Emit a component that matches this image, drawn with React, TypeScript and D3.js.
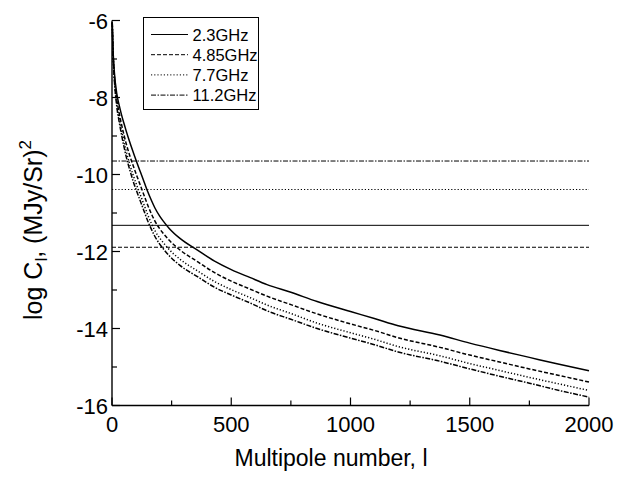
import React from "react";
import * as d3 from "d3";

const multipoles = [1, 5, 10, 20, 30, 40, 50, 60, 75, 90, 105, 120, 135, 150, 165, 180, 200, 215, 240, 285, 360, 430, 500, 580, 650, 750, 860, 1000, 1100, 1200, 1375, 1500, 1625, 1750, 1875, 2000];
const c23 = [-6.05, -6.85, -7.35, -7.9, -8.2, -8.45, -8.67, -8.88, -9.17, -9.44, -9.7, -9.95, -10.2, -10.45, -10.67, -10.87, -11.08, -11.21, -11.4, -11.66, -11.97, -12.25, -12.47, -12.68, -12.86, -13.06, -13.3, -13.56, -13.74, -13.93, -14.17, -14.38, -14.57, -14.75, -14.93, -15.1];
const c485 = [-6.05, -6.9, -7.45, -8.05, -8.4, -8.7, -8.97, -9.21, -9.52, -9.79, -10.05, -10.3, -10.55, -10.8, -11.02, -11.21, -11.41, -11.53, -11.71, -11.96, -12.27, -12.55, -12.77, -12.98, -13.16, -13.38, -13.62, -13.88, -14.05, -14.24, -14.49, -14.69, -14.87, -15.05, -15.22, -15.39];
const c77 = [-6.05, -6.93, -7.5, -8.15, -8.53, -8.85, -9.13, -9.4, -9.75, -10.04, -10.3, -10.55, -10.8, -11.05, -11.27, -11.46, -11.65, -11.77, -11.95, -12.2, -12.51, -12.78, -12.99, -13.2, -13.39, -13.61, -13.86, -14.11, -14.28, -14.47, -14.71, -14.91, -15.09, -15.27, -15.44, -15.61];
const c112 = [-6.05, -6.95, -7.55, -8.23, -8.63, -8.97, -9.27, -9.55, -9.89, -10.2, -10.46, -10.71, -10.96, -11.21, -11.42, -11.61, -11.81, -11.93, -12.11, -12.36, -12.66, -12.93, -13.13, -13.34, -13.54, -13.76, -14.0, -14.25, -14.42, -14.61, -14.85, -15.05, -15.24, -15.42, -15.61, -15.78];

const seriesNames = ["2.3GHz", "4.85GHz", "7.7GHz", "11.2GHz"];
const seriesValues = [c23, c485, c77, c112];
const noiseLevels = [-11.32, -11.89, -10.39, -9.65];
const dashes = ["none", "4,2", "1.2,2", "5,1.5,1.5,1.5"];

const xTicks = [0, 500, 1000, 1500, 2000];
const xMinor = [250, 750, 1250, 1750];
const yTicks = [-16, -14, -12, -10, -8, -6];
const yMinor = [-15, -13, -11, -9, -7];

const FONT = "'Liberation Sans', Arial, sans-serif";

export default function App() {
  const x = d3.scaleLinear().domain([0, 2000]).range([112, 589]);
  const y = d3.scaleLinear().domain([-16, -6]).range([405.5, 20.5]);
  const line = d3
    .line<[number, number]>()
    .x((d) => x(d[0]))
    .y((d) => y(d[1]))
    .curve(d3.curveMonotoneX);

  return (
    <svg width={617} height={478} style={{ position: "absolute", left: 0, top: 0, background: "#fff" }}>
      <rect x={0} y={0} width={617} height={478} fill="#fff" />
      {/* noise levels */}
      {noiseLevels.map((v, i) => (
        <line key={"h" + i} x1={x(0)} x2={x(2000)} y1={y(v)} y2={y(v)} stroke="#000" strokeWidth={1} strokeDasharray={dashes[i]} />
      ))}
      {/* curves */}
      {seriesValues.map((vals, i) => (
        <path
          key={"c" + i}
          d={line(multipoles.map((l, j) => [l, vals[j]] as [number, number])) || ""}
          fill="none"
          stroke="#000"
          strokeWidth={1.5}
          strokeDasharray={dashes[i] === "none" ? "none" : dashes[i]}
        />
      ))}
      {/* axes */}
      <line x1={x(0)} x2={x(0)} y1={y(-6)} y2={y(-16)} stroke="#000" strokeWidth={1.4} />
      <line x1={x(0)} x2={x(2000)} y1={y(-16)} y2={y(-16)} stroke="#000" strokeWidth={1.4} />
      {xTicks.map((t) => (
        <g key={"xt" + t}>
          <line x1={x(t)} x2={x(t)} y1={y(-16)} y2={y(-16) - 8} stroke="#000" strokeWidth={1.2} />
          <text x={x(t)} y={432} textAnchor="middle" fontFamily={FONT} fontSize={22}>{t}</text>
        </g>
      ))}
      {xMinor.map((t) => (
        <line key={"xm" + t} x1={x(t)} x2={x(t)} y1={y(-16)} y2={y(-16) - 5} stroke="#000" strokeWidth={1.2} />
      ))}
      {yTicks.map((t) => (
        <g key={"yt" + t}>
          <line x1={x(0)} x2={x(0) + 8} y1={y(t)} y2={y(t)} stroke="#000" strokeWidth={1.2} />
          <text x={108} y={y(t) + 8} textAnchor="end" fontFamily={FONT} fontSize={22}>{t}</text>
        </g>
      ))}
      {yMinor.map((t) => (
        <line key={"ym" + t} x1={x(0)} x2={x(0) + 5} y1={y(t)} y2={y(t)} stroke="#000" strokeWidth={1.2} />
      ))}
      {/* axis titles */}
      <text x={331} y={466} textAnchor="middle" fontFamily={FONT} fontSize={23}>Multipole number, l</text>
      <text transform="translate(42,230) rotate(-90)" textAnchor="middle" fontFamily={FONT} fontSize={25}>
        log C<tspan fontSize={17} dy={5}>l</tspan>
        <tspan dy={-5}>, (MJy/Sr)</tspan>
        <tspan fontSize={17} dy={-11}>2</tspan>
      </text>
      {/* legend */}
      <rect x={143.5} y={17.5} width={115} height={92} fill="#fff" stroke="#000" strokeWidth={1} />
      {seriesNames.map((n, i) => {
        const ry = 34.5 + i * 20.2;
        return (
          <g key={"lg" + i}>
            <line x1={151} x2={188} y1={ry} y2={ry} stroke="#000" strokeWidth={1} strokeDasharray={dashes[i]} />
            <text x={192.5} y={ry + 6} fontFamily={FONT} fontSize={16.5}>{n}</text>
          </g>
        );
      })}
    </svg>
  );
}
